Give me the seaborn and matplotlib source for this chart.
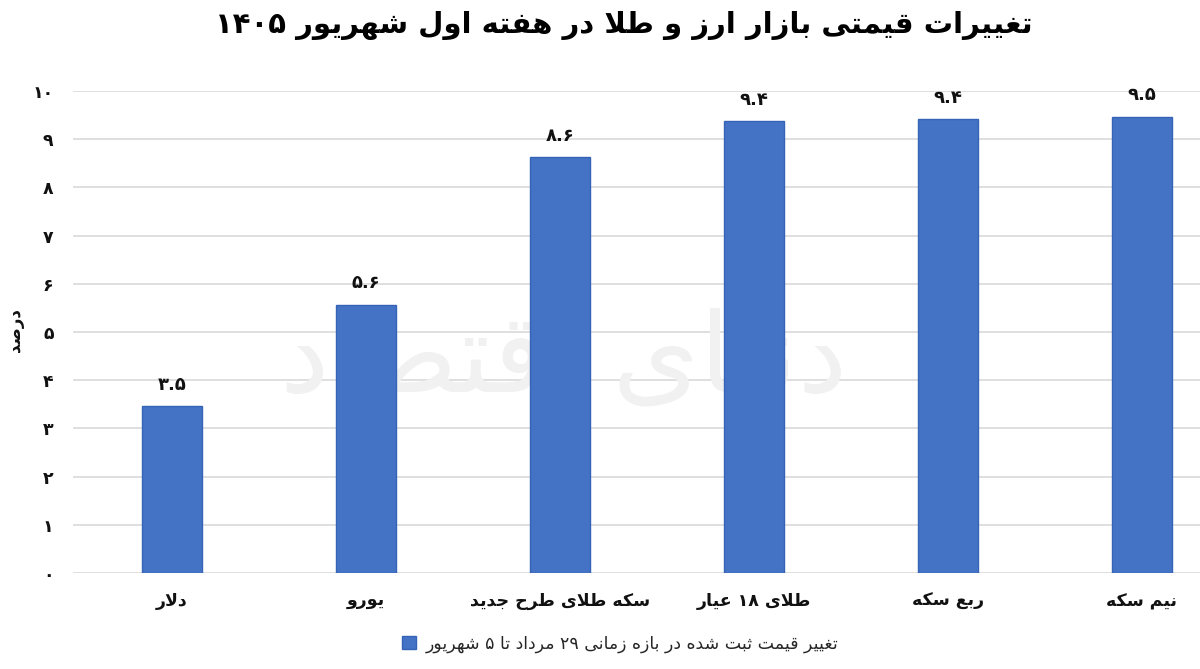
import matplotlib
matplotlib.use("Agg")
import matplotlib.pyplot as plt
import seaborn as sns
from matplotlib.patches import Patch

# data
categories = ["دلار", "یورو", "سکه طلای طرح جدید", "طلای ۱۸ عیار", "ربع سکه", "نیم سکه"]
values = [3.46, 5.56, 8.63, 9.37, 9.41, 9.47]
y_ticks = [0, 1, 2, 3, 4, 5, 6, 7, 8, 9, 10]
title = "تغییرات قیمتی بازار ارز و طلا در هفته اول شهریور ۱۴۰۵"
legend_label = "تغییر قیمت ثبت شده در بازه زمانی ۲۹ مرداد تا ۵ شهریور"
y_label = "درصد"
watermark = "دنیای اقتصاد"

# --- minimal Arabic/Persian shaping (matplotlib has no complex text layout) ---
# letter: (isolated, final, initial, medial)
FORMS = {
    "ا": ("\uFE8D", "\uFE8E", None, None),
    "ب": ("\uFE8F", "\uFE90", "\uFE91", "\uFE92"),
    "ت": ("\uFE95", "\uFE96", "\uFE97", "\uFE98"),
    "ث": ("\uFE99", "\uFE9A", "\uFE9B", "\uFE9C"),
    "ج": ("\uFE9D", "\uFE9E", "\uFE9F", "\uFEA0"),
    "ح": ("\uFEA1", "\uFEA2", "\uFEA3", "\uFEA4"),
    "د": ("\uFEA9", "\uFEAA", None, None),
    "ر": ("\uFEAD", "\uFEAE", None, None),
    "ز": ("\uFEAF", "\uFEB0", None, None),
    "س": ("\uFEB1", "\uFEB2", "\uFEB3", "\uFEB4"),
    "ش": ("\uFEB5", "\uFEB6", "\uFEB7", "\uFEB8"),
    "ص": ("\uFEB9", "\uFEBA", "\uFEBB", "\uFEBC"),
    "ط": ("\uFEC1", "\uFEC2", "\uFEC3", "\uFEC4"),
    "ع": ("\uFEC9", "\uFECA", "\uFECB", "\uFECC"),
    "غ": ("\uFECD", "\uFECE", "\uFECF", "\uFED0"),
    "ف": ("\uFED1", "\uFED2", "\uFED3", "\uFED4"),
    "ق": ("\uFED5", "\uFED6", "\uFED7", "\uFED8"),
    "ل": ("\uFEDD", "\uFEDE", "\uFEDF", "\uFEE0"),
    "م": ("\uFEE1", "\uFEE2", "\uFEE3", "\uFEE4"),
    "ن": ("\uFEE5", "\uFEE6", "\uFEE7", "\uFEE8"),
    "ه": ("\uFEE9", "\uFEEA", "\uFEEB", "\uFEEC"),
    "و": ("\uFEED", "\uFEEE", None, None),
    "ک": ("\uFB8E", "\uFB8F", "\uFB90", "\uFB91"),
    "ی": ("\uFBFC", "\uFBFD", "\uFBFE", "\uFBFF"),
}


def shape_word(w):
    out = []
    prev_joins = False
    i = 0
    while i < len(w):
        c = w[i]
        if c not in FORMS:
            out.append(c)
            prev_joins = False
            i += 1
            continue
        if c == "ل" and i + 1 < len(w) and w[i + 1] == "ا":
            out.append("\uFEFC" if prev_joins else "\uFEFB")
            prev_joins = False
            i += 2
            continue
        f = FORMS[c]
        nxt = w[i + 1] if i + 1 < len(w) else None
        can_next = f[2] is not None and nxt in FORMS
        if prev_joins and can_next:
            g = f[3]
        elif prev_joins:
            g = f[1]
        elif can_next:
            g = f[2]
        else:
            g = f[0]
        out.append(g)
        prev_joins = f[2] is not None
        i += 1
    return "".join(reversed(out))


def rtl(text):
    words = []
    for tok in text.split(" "):
        if any(ch in FORMS for ch in tok):
            words.append(shape_word(tok))
        else:
            words.append(tok)
    return " ".join(reversed(words))


def fa_num(s):
    return s.translate(str.maketrans("0123456789", "۰۱۲۳۴۵۶۷۸۹"))


sns.set_style("white")
plt.rcParams["font.family"] = ["DejaVu Sans"]

bar_color = "#4472C4"
grid_color = "#d9d9d9"

fig = plt.figure(figsize=(12, 6.69), dpi=100)
ax = fig.add_axes([0.0608, 0.1435, 0.9392, 0.7205])

labels = [rtl(c) for c in categories]
sns.barplot(x=labels, y=values, color=bar_color, width=0.31, ax=ax,
            edgecolor="#3563b5", linewidth=1, saturation=1, zorder=3)

ax.set_xlim(-0.51, 5.30)
ax.set_ylim(0, 10)
ax.set_yticks(y_ticks)
ax.set_yticklabels([fa_num(str(t)) for t in y_ticks])
ax.yaxis.grid(True, color=grid_color, linewidth=1.2, zorder=0)
ax.set_axisbelow(True)
for s in ax.spines.values():
    s.set_visible(False)
ax.tick_params(axis="y", length=0, pad=14, labelsize=12.5, labelcolor="#111111")
ax.tick_params(axis="x", length=0, pad=14, labelsize=12.5, labelcolor="#111111")
for t in ax.get_xticklabels():
    t.set_fontweight("bold")
for t in ax.get_yticklabels():
    t.set_fontweight("bold")
ax.set_xlabel("")
ax.set_ylabel("")

# value labels above bars
for i, v in enumerate(values):
    ax.annotate(fa_num(f"{v:.1f}"), (i, v), xytext=(0, 9), textcoords="offset points",
                ha="center", va="bottom", fontsize=13, fontweight="bold", color="#111111")

# faint watermark, kept behind the bars
ax.text(0.47, 0.46, rtl(watermark), transform=fig.transFigure, fontsize=80,
        color="#f1f1f1", ha="center", va="center", zorder=1)

fig.text(0.0125, 0.507, rtl(y_label), rotation=90, ha="center", va="center",
         fontsize=12, fontweight="bold", color="#111111")

fig.text(0.52, 0.962, rtl(title), ha="center", va="center", fontsize=21,
         fontweight="bold", color="#000000")

handle = Patch(facecolor=bar_color, edgecolor="#3563b5")
fig.legend([handle], [rtl(legend_label)], loc="center", bbox_to_anchor=(0.517, 0.038),
           frameon=False, fontsize=12.5, handlelength=0.8, handleheight=0.8,
           handletextpad=0.6)

fig.savefig("out.png", dpi=100)
